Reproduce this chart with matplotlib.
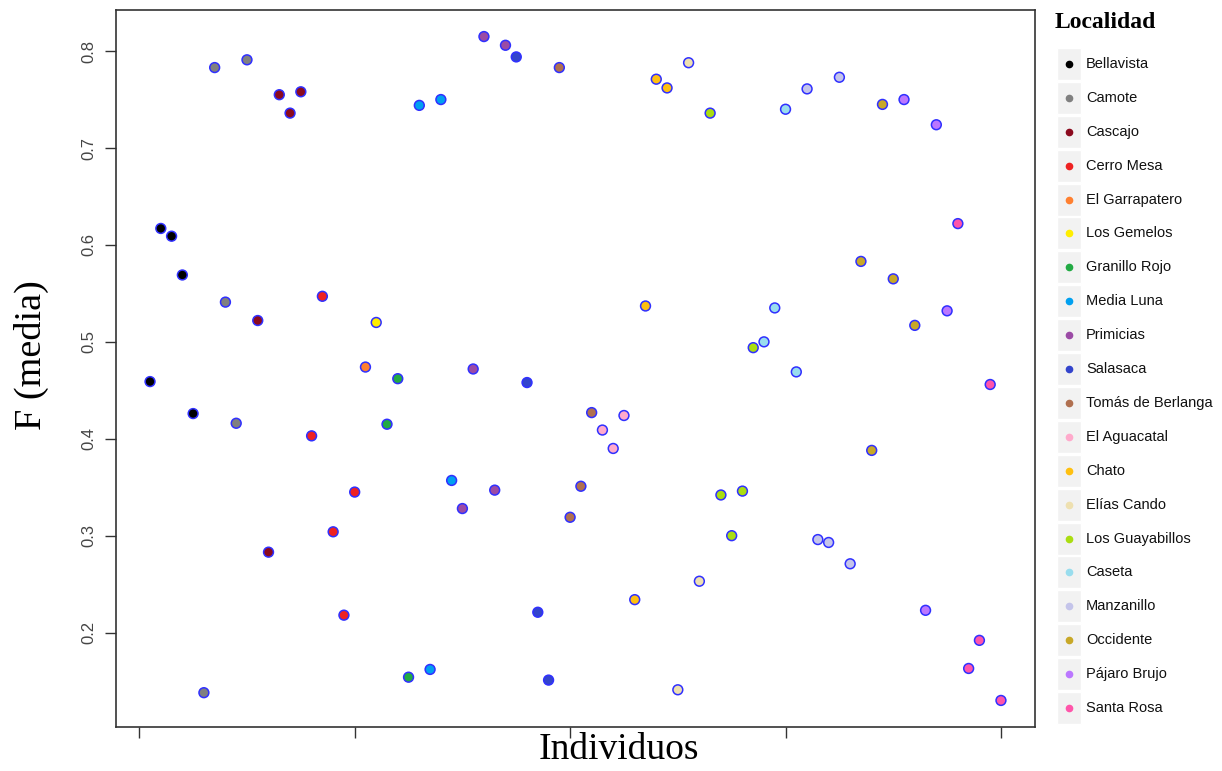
import matplotlib
matplotlib.use("Agg")
import matplotlib.pyplot as plt
import numpy as np
from matplotlib.patches import Rectangle

localidades = ['Bellavista', 'Camote', 'Cascajo', 'Cerro Mesa', 'El Garrapatero',
               'Los Gemelos', 'Granillo Rojo', 'Media Luna', 'Primicias', 'Salasaca',
               'Tomás de Berlanga', 'El Aguacatal', 'Chato', 'Elías Cando',
               'Los Guayabillos', 'Caseta', 'Manzanillo', 'Occidente',
               'Pájaro Brujo', 'Santa Rosa']

colores = ['#000000', '#808080', '#8b0a1e', '#ee2222', '#ff8030',
           '#ffee00', '#22aa44', '#00a0f0', '#9b4ba5', '#3344cc',
           '#b07050', '#ffaacc', '#ffc010', '#eee0b0',
           '#aadd11', '#99ddee', '#c4c4ea', '#c8a828',
           '#bb77ff', '#ff55aa']

# F medio por individuo, en el orden de muestreo
f_media = [0.459, 0.617, 0.609, 0.569, 0.426,
           0.138, 0.783, 0.541, 0.416, 0.791,
           0.522, 0.283, 0.755, 0.736, 0.758,
           0.403, 0.547, 0.304, 0.218, 0.345,
           0.474,
           0.520,
           0.415, 0.462, 0.154,
           0.744, 0.162, 0.750, 0.357,
           0.328, 0.472, 0.815, 0.347, 0.806,
           0.794, 0.458, 0.221, 0.151,
           0.783, 0.319, 0.351, 0.427,
           0.409, 0.390, 0.424,
           0.234, 0.537, 0.771, 0.762,
           0.141, 0.788, 0.253,
           0.736, 0.342, 0.300, 0.346, 0.494,
           0.500, 0.535, 0.740, 0.469,
           0.761, 0.296, 0.293, 0.773, 0.271,
           0.583, 0.388, 0.745, 0.565,
           0.750,
           0.517,
           0.223, 0.724, 0.532,
           0.622, 0.163, 0.192, 0.456, 0.130]

localidad = (['Bellavista'] * 5 + ['Camote'] * 5 + ['Cascajo'] * 5 + ['Cerro Mesa'] * 5
             + ['El Garrapatero'] + ['Los Gemelos'] + ['Granillo Rojo'] * 3
             + ['Media Luna'] * 4 + ['Primicias'] * 5 + ['Salasaca'] * 4
             + ['Tomás de Berlanga'] * 4 + ['El Aguacatal'] * 3 + ['Chato'] * 4
             + ['Elías Cando'] * 3 + ['Los Guayabillos'] * 5 + ['Caseta'] * 4
             + ['Manzanillo'] * 5 + ['Occidente'] * 4 + ['Pájaro Brujo']
             + ['Occidente'] + ['Pájaro Brujo'] * 3 + ['Santa Rosa'] * 5)

individuos = np.arange(1, len(f_media) + 1)
color_de = dict(zip(localidades, colores))
col_puntos = [color_de[l] for l in localidad]

fig = plt.figure(figsize=(12.22, 7.71), dpi=100)
ax = fig.add_axes([116 / 1222, 1 - 727 / 771, (1035 - 116) / 1222, (727 - 10) / 771])

ax.scatter(individuos, f_media, s=50, c=col_puntos, edgecolors='#3030ff',
           linewidths=1.1, zorder=3)

ax.margins(x=0.04, y=0.04)
ax.set_xticks([0, 20, 40, 60, 80])
ax.set_xticklabels([])
ax.set_yticks([0.2, 0.3, 0.4, 0.5, 0.6, 0.7, 0.8])
ax.set_yticklabels(['0.2', '0.3', '0.4', '0.5', '0.6', '0.7', '0.8'],
                   rotation=90, va='center', fontsize=12, color='#444444',
                   family='Liberation Sans')
ax.tick_params(direction='out', length=8, width=1, color='#333333', pad=6)
for s in ax.spines.values():
    s.set_color('#333333')
    s.set_linewidth(1.2)

# títulos de ejes
fig.text(619 / 1222, 1 - 750 / 771, 'Individuos', family='Liberation Serif',
         fontsize=27, ha='center', va='center')
fig.text(31 / 1222, 1 - 355 / 771, 'F (media)', family='Liberation Serif',
         fontsize=27.5, ha='center', va='center', rotation=90)

# leyenda dibujada a mano en coordenadas de pixel
lg = fig.add_axes([0, 0, 1, 1], zorder=5)
lg.set_xlim(0, 1222)
lg.set_ylim(771, 0)
lg.axis('off')
lg.text(1055, 22, 'Localidad', family='Liberation Serif', fontweight='bold',
        fontsize=17, va='center', ha='left')
paso = (708 - 64) / (len(localidades) - 1)
for i, (nom, col) in enumerate(zip(localidades, colores)):
    yc = 64 + i * paso
    lg.add_patch(Rectangle((1057, yc - 16), 24, 32, facecolor='#f2f2f2',
                           edgecolor='white', linewidth=1))
    lg.plot(1069, yc, 'o', ms=4.5, color=col, mec=col)
    lg.text(1086, yc, nom, family='Liberation Sans', fontsize=10.5,
            va='center', ha='left', color='#111111')

fig.savefig('out.png', dpi=100)
